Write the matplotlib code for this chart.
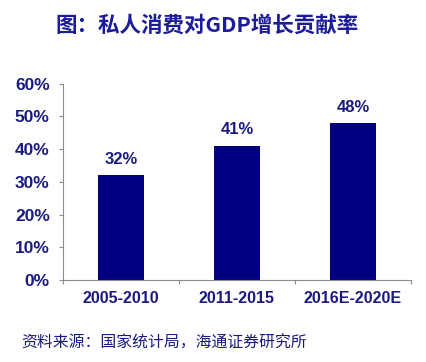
import matplotlib.pyplot as plt
from matplotlib.ticker import FixedLocator, NullFormatter

periods = ["2005-2010", "2011-2015", "2016E-2020E"]
contribution = [32, 41, 48]
y_ticks = [0, 10, 20, 30, 40, 50, 60]

title = "图：私人消费对GDP增长贡献率"
source = "资料来源：国家统计局，海通证券研究所"

bar_color = "#000080"
text_color = "#1a1a80"
axis_color = "#8c8c8c"

fig = plt.figure(figsize=(4.27, 3.62), dpi=100)
ax = fig.add_axes([0.1475, 0.2265, 0.815, 0.5425])

x = range(len(periods))
ax.bar(x, contribution, width=0.4, color=bar_color)
for xi, v in zip(x, contribution):
    ax.annotate(f"{v}%", (xi, v), xytext=(0, 6), textcoords="offset points",
                ha="center", va="bottom", fontsize=12, fontweight="bold",
                color=text_color, family=["Liberation Sans", "DejaVu Sans"])

ax.set_xlim(-0.5, 2.5)
ax.set_ylim(0, 60)
ax.set_yticks(y_ticks)
ax.set_yticklabels([f"{t}%" for t in y_ticks])

# category boundaries as major ticks, labels on minor ticks
ax.xaxis.set_major_locator(FixedLocator([-0.5, 0.5, 1.5, 2.5]))
ax.xaxis.set_major_formatter(NullFormatter())
ax.xaxis.set_minor_locator(FixedLocator(list(x)))
ax.set_xticklabels(periods, minor=True)
ax.tick_params(axis="x", which="minor", length=0, pad=8)
ax.tick_params(axis="x", which="major", length=3, color=axis_color)
ax.tick_params(axis="y", length=3, color=axis_color, pad=6.5)

for lab in ax.get_yticklabels():
    lab.set_fontsize(12.5)
for lab in ax.get_xticklabels(minor=True):
    lab.set_fontsize(11.5)
for lab in ax.get_xticklabels(minor=True) + ax.get_yticklabels():
    lab.set_fontweight("bold")
    lab.set_color(text_color)
    lab.set_family(["Liberation Sans", "DejaVu Sans"])

for s in ["top", "right"]:
    ax.spines[s].set_visible(False)
for s in ["left", "bottom"]:
    ax.spines[s].set_color(axis_color)

fig.text(0.485, 0.93, title, ha="center", va="center", fontsize=15.5,
         fontweight="bold", color="#1c1c9a",
         family=["Noto Sans CJK SC", "DejaVu Sans"])
fig.text(0.05, 0.052, source, ha="left", va="center", fontsize=11.4,
         color=text_color, family=["Noto Sans CJK SC", "DejaVu Sans"])

fig.savefig("out.png", dpi=100)
